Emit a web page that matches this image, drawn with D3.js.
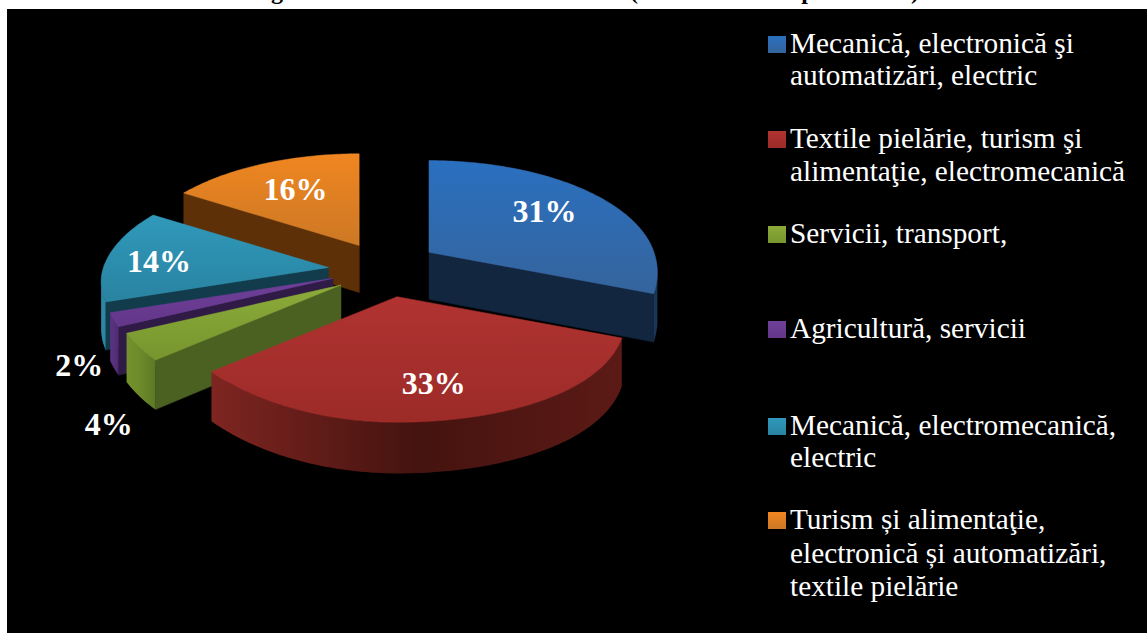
<!DOCTYPE html>
<html><head><meta charset="utf-8">
<script src="https://cdnjs.cloudflare.com/ajax/libs/d3/7.8.5/d3.min.js"></script>
<style>html,body{margin:0;padding:0;background:#fff}svg{display:block}</style>
</head><body><svg id="c" width="1147" height="633"></svg>
<script>
const categories = [
  ["Mecanică, electronică şi","automatizări, electric"],
  ["Textile pielărie, turism şi","alimentaţie, electromecanică"],
  ["Servicii, transport,"],
  ["Agricultură, servicii"],
  ["Mecanică, electromecanică,","electric"],
  ["Turism și alimentaţie,","electronică și automatizări,","textile pielărie"]
];
const values = [31,33,4,2,14,16];
const labels = ["31%","33%","4%","2%","14%","16%"];
const titleFragments = [["g",277],["(",634],["p",808],[")",915]];
const topColors  = [["#2a70c0","#35649c"],["#b03331","#9c2b28"],["#8cab3a","#76962e"],["#70409a","#633689"],["#3099bb","#2983a0"],["#f08620","#cc7825"]];
const cutColors  = ["#13263f","#4a1512","#4b6121","#2f1b45","#123c4c","#5e3008"];
const rimColors  = [["#1a3556","#1a3556","#1a3556"],["#7e2521","#45130f","#5c1a16"],["#74922d","#6c8a2a","#5c7825"],["#5c3383","#56307b","#4e2a70"],["#2c88a6","#277a95","#226a82"],["#8a4a10","#8a4a10","#8a4a10"]];
const labelRadius = [.68,.70,1.3,1.3,.78,.66];
const labelNudge = [[-4,-3],[8,4],[33,56],[34,32],[2,4],[2,0]];
const sliceNudge = [[-4,0],[3,1],[5,2],[2,0],[1,3],[2,2]];
const drawOrder = [5,0,4,3,2,1];
const legendBaselines = [[53,85],[148,181],[243],[338],[435,467],[529,563,596]];

const W=1147,H=633, cx=385, cy=268, ex=58, ey=28, Rx=225, Ry=106, p=.156, depth=47, skew=22;
const svg=d3.select("#c");
const defs=svg.append("defs");
svg.append("rect").attr("x",7).attr("y",9).attr("width",W-7).attr("height",H-9).attr("fill","#000");

// clipped title, only descenders remain above the black panel
svg.append("g").selectAll("text").data(titleFragments).join("text")
  .attr("x",d=>d[1]).attr("y",-1).attr("text-anchor","middle")
  .attr("font-family","Liberation Serif").attr("font-weight","bold").attr("font-size",24)
  .text(d=>d[0]);

const pie=d3.pie().sort(null).startAngle(0).endAngle(2*Math.PI);
const arcs=pie(values);
const line=d3.line().x(d=>d[0]).y(d=>d[1]);
function local(a,r){
  const u=Math.sin(a)*r,v=-Math.cos(a)*r,f=1/(1-p*v);
  const sk=v>0?skew*v*v*Math.abs(u):0;
  return [Rx*u*f+sk,Ry*v*f,f];
}
function apexOf(mid,i){return [cx+ex*Math.sin(mid)+sliceNudge[i][0],cy-ey*Math.cos(mid)+sliceNudge[i][1]];}
const scene=svg.append("g");

drawOrder.forEach(i=>{
  const d=arcs[i], mid=(d.startAngle+d.endAngle)/2, A=apexOf(mid,i);
  const pt=(a,r=1)=>{const l=local(a,r);return [A[0]+l[0],A[1]+l[1],l[2]];};
  const drop=q=>[q[0],q[1]+depth*Math.sqrt(q[2])];
  const n=Math.max(8,Math.ceil((d.endAngle-d.startAngle)*60));
  const angs=d3.range(n+1).map(k=>d.startAngle+(d.endAngle-d.startAngle)*k/n);
  const arcPts=angs.map(a=>pt(a));
  const apex=[A[0],A[1],1];

  const tg=defs.append("linearGradient").attr("id","t"+i).attr("x1",0).attr("y1",0).attr("x2",0).attr("y2",1);
  tg.append("stop").attr("offset",0).attr("stop-color",topColors[i][0]);
  tg.append("stop").attr("offset",1).attr("stop-color",topColors[i][1]);
  const xs=arcPts.map(q=>q[0]);
  const rg=defs.append("linearGradient").attr("id","r"+i).attr("gradientUnits","userSpaceOnUse")
    .attr("x1",d3.min(xs)).attr("x2",d3.max(xs)).attr("y1",0).attr("y2",0);
  rimColors[i].forEach((c,k)=>rg.append("stop").attr("offset",k/2).attr("stop-color",c));

  const g=scene.append("g");
  const face=(P,Q,fill)=>g.append("path").attr("d",line([P,Q,drop(Q),drop(P)])+"Z").attr("fill",fill).attr("stroke",fill).attr("stroke-width",.5);
  const s=arcPts[0], e=arcPts[n];
  if(s[0]<apex[0]) face(apex,s,cutColors[i]);
  if(apex[0]<e[0]) face(e,apex,cutColors[i]);
  let run=[];
  const flush=()=>{ if(run.length>1){
      g.append("path").attr("d",line(run.concat(run.slice().reverse().map(drop)))+"Z")
       .attr("fill",`url(#r${i})`).attr("stroke","none");
    } run=[]; };
  for(let k=0;k<n;k++){
    if(arcPts[k+1][0]<arcPts[k][0]){ if(!run.length) run.push(arcPts[k]); run.push(arcPts[k+1]); }
    else flush();
  }
  flush();
  g.append("path").attr("d",line([apex,...arcPts])+"Z").attr("fill",`url(#t${i})`)
    .attr("stroke",d3.color(topColors[i][1]).brighter(.35)).attr("stroke-width",.7).attr("stroke-opacity",.7);
});

arcs.forEach((d,i)=>{
  const mid=(d.startAngle+d.endAngle)/2,A=apexOf(mid,i),l=local(mid,labelRadius[i]);
  svg.append("text").attr("x",A[0]+l[0]+labelNudge[i][0]).attr("y",A[1]+l[1]+labelNudge[i][1])
    .attr("dy","0.34em").attr("text-anchor","middle").attr("fill","#fff")
    .attr("font-family","Liberation Serif").attr("font-weight","bold").attr("font-size",32)
    .text(labels[i]);
});

const leg=svg.append("g");
categories.forEach((c,i)=>{
  const b=legendBaselines[i];
  leg.append("rect").attr("x",768).attr("y",b[0]-17).attr("width",18).attr("height",17)
    .attr("fill",`url(#t${i})`);
  c.forEach((t,k)=>leg.append("text").attr("x",790).attr("y",b[k]).attr("fill","#fff")
    .attr("font-family","Liberation Serif").attr("font-size",29.3).text(t));
});
</script></body></html>
